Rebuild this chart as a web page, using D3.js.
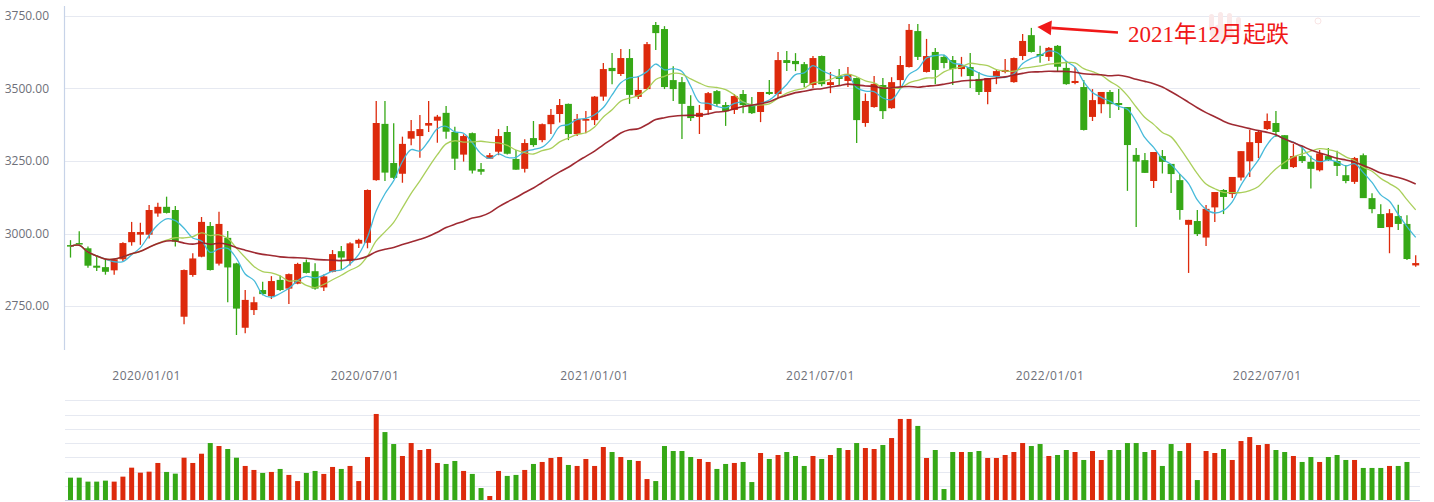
<!DOCTYPE html>
<html><head><meta charset="utf-8">
<script src="https://cdn.jsdelivr.net/npm/d3@7/dist/d3.min.js"></script>
<style>html,body{margin:0;padding:0;background:#fff;}svg{display:block}</style>
</head><body>
<svg id="chart" width="1434" height="502"></svg>
<script>
// ---- Weekly candles, one per trading week ----
const openP = [2960,2967,2949,2889,2884,2873,2911,2970,2996,2996,
3069,3092,3081,2713,2857,2920,3026,2896,2985,2897,
2675,2736,2805,2784,2840,2810,2827,2901,2870,2814,
2868,2939,2905,2965,2968,3184,3378,3243,3206,3327,
3336,3372,3389,3416,3350,3272,3346,3222,3258,3282,
3350,3257,3223,3329,3322,3377,3412,3447,3343,3389,
3391,3472,3571,3550,3605,3471,3498,3719,3705,3529,
3522,3440,3402,3426,3491,3443,3426,3481,3443,3419,
3488,3481,3598,3595,3584,3512,3612,3512,3543,3526,
3536,3381,3436,3512,3432,3529,3574,3698,3557,3626,
3609,3598,3567,3574,3533,3488,3543,3557,3522,3612,
3684,3619,3609,3647,3571,3519,3505,3402,3446,3488,
3450,3436,3271,3253,3181,3267,3240,3184,3030,3043,
2986,3090,3150,3136,3193,3249,3312,3360,3381,3339,
3229,3267,3247,3218,3267,3250,3201,3178,3270,3122,
3067,3022,3060,3033,2890];
const closeP = [2956,2963,2889,2882,2868,2911,2967,3005,3005,3081,
3092,3071,2972,2874,2914,3040,2874,3033,2883,2741,
2771,2763,2791,2836,2805,2860,2895,2864,2810,2852,
2929,2917,2966,2978,3150,3381,3210,3192,3309,3353,
3360,3381,3403,3351,3258,3336,3217,3213,3270,3336,
3275,3220,3312,3305,3377,3409,3443,3343,3395,3395,
3472,3567,3560,3605,3478,3495,3653,3691,3505,3498,
3447,3398,3416,3484,3447,3422,3474,3443,3415,3488,
3481,3598,3588,3584,3519,3605,3515,3522,3533,3550,
3391,3457,3516,3422,3522,3581,3702,3609,3612,3564,
3588,3567,3581,3543,3488,3536,3560,3564,3605,3664,
3626,3612,3640,3575,3515,3526,3357,3460,3488,3446,
3443,3305,3248,3209,3281,3247,3205,3081,3047,2998,
3085,3143,3126,3195,3284,3315,3350,3388,3350,3222,
3267,3250,3223,3276,3253,3233,3181,3260,3122,3084,
3019,3070,3033,2912,2898];
const highP = [2977,3008,2955,2926,2911,2913,2970,3040,3037,3098,
3106,3127,3095,2876,2932,3057,3040,3075,3009,2899,
2805,2782,2834,2853,2855,2862,2899,2910,2897,2859,
2943,2957,2970,2982,3152,3457,3457,3380,3334,3391,
3409,3457,3409,3440,3368,3342,3348,3243,3278,3360,
3371,3288,3325,3388,3379,3429,3464,3448,3412,3422,
3474,3588,3622,3636,3636,3543,3660,3729,3715,3577,
3540,3477,3443,3488,3495,3453,3481,3495,3471,3488,
3529,3626,3629,3622,3591,3612,3614,3557,3567,3574,
3538,3483,3543,3536,3539,3612,3722,3722,3671,3640,
3616,3612,3609,3622,3557,3536,3564,3602,3607,3688,
3709,3647,3643,3650,3595,3574,3529,3498,3488,3495,
3498,3436,3295,3278,3281,3288,3240,3205,3047,3081,
3098,3143,3153,3195,3284,3357,3357,3414,3422,3339,
3309,3301,3268,3288,3295,3285,3236,3264,3276,3139,
3101,3084,3099,3063,2925];
const lowP = [2917,2960,2882,2871,2858,2858,2905,2958,2961,2983,
3058,3069,2955,2687,2851,2918,2872,2890,2763,2650,
2656,2719,2787,2774,2802,2757,2825,2862,2806,2802,
2866,2877,2890,2950,2949,3182,3181,3188,3175,3304,
3261,3350,3313,3327,3219,3248,3207,3203,3257,3270,
3272,3220,3210,3299,3315,3343,3383,3322,3336,3346,
3374,3458,3515,3543,3447,3464,3497,3633,3498,3457,
3326,3388,3343,3410,3440,3371,3412,3415,3412,3384,
3478,3467,3560,3560,3505,3502,3508,3484,3512,3505,
3312,3368,3434,3395,3430,3508,3572,3598,3555,3515,
3570,3512,3541,3502,3478,3446,3515,3553,3520,3598,
3624,3589,3595,3557,3513,3515,3355,3388,3415,3398,
3426,3147,3022,3209,3157,3207,3140,3047,2864,2991,
2957,3040,3067,3122,3183,3195,3260,3357,3333,3222,
3226,3243,3155,3214,3250,3198,3173,3171,3122,3070,
3019,2932,3012,2909,2885];
// weekly volume (relative units; last week has no bar)
const volume = [785,785,645,645,680,645,820,1135,960,995,
1300,985,925,1485,1300,1625,2000,1895,1790,1485,
1195,1055,950,985,1090,880,665,950,1020,915,
1160,1090,1195,665,1510,3020,2385,1965,1545,2000,
1755,1790,1300,1265,1370,1020,915,420,140,1020,
845,880,1055,1265,1335,1475,1510,1230,1195,1440,
1195,1860,1685,1510,1405,1370,735,665,1895,1720,
1720,1510,1440,1335,1090,1265,1300,1335,630,1650,
1440,1580,1685,1545,1195,1545,1440,1580,1825,1755,
2000,1825,1790,1930,2175,2845,2845,2600,1475,1755,
385,1685,1685,1685,1720,1475,1475,1580,1685,2000,
1895,1965,1545,1580,1755,1685,1405,1720,1405,1755,
1755,2000,2000,1685,1755,1195,1965,1720,2000,700,
1720,1650,1790,1405,2070,2210,1930,1965,1755,1685,
1545,1335,1510,1335,1510,1580,1405,1405,1125,1125,
1125,1195,1195,1335,null];

// categories: week-ending Fridays, weeks fully closed for holidays skipped
const firstWeek = "2019-11-01";
const closedWeeks = ["2020-01-31","2022-02-04","2022-10-07"];
const yTicks = [2750,3000,3250,3500,3750];
const xTickLabels = ["2020/01/01","2020/07/01","2021/01/01","2021/07/01","2022/01/01","2022/07/01"];
const maPeriods = [5,10,30];
const maColors = ["#3cb6d8","#a5cc52","#9a1f27"];
const annotationText = "2021年12月起跌";
const annotationIndex = 110;

const UP = "#dd2a0c", DOWN = "#36a816";
const n = closeP.length;
const dates = [];
{ let t = Date.parse(firstWeek + "T00:00:00Z");
  while (dates.length < n) {
    const s = new Date(t).toISOString().slice(0,10);
    if (!closedWeeks.includes(s)) dates.push(t);
    t += 7*864e5;
  } }

const svg = d3.select("#chart");
const x = d3.scalePoint().domain(d3.range(n)).range([70.5, 1415.7]);
const step = x.step();
const y = d3.scaleLinear().domain([2600, 3750]).range([349.5, 16]);
const yv = d3.scaleLinear().domain([0, 3500]).range([500, 400.3]);
const gridColor = "#e6e9f1", axisColor = "#c7d3e8", labelColor = "#6e7079";
const FONT = "'Open Sans', 'Liberation Sans', sans-serif";

// ---- main grid ----
svg.append("g").selectAll("line").data(yTicks).join("line")
  .attr("x1", 64).attr("x2", 1420)
  .attr("y1", d => Math.round(y(d)) + 0.5).attr("y2", d => Math.round(y(d)) + 0.5)
  .attr("stroke", gridColor).attr("stroke-width", 1);

const yAxis = svg.append("g").attr("transform", "translate(64,0)")
  .call(d3.axisLeft(y).tickValues(yTicks).tickFormat(d3.format(".2f")).tickSize(0).tickPadding(15));
yAxis.select(".domain").remove();
yAxis.selectAll("text").attr("fill", labelColor).style("font-family", FONT).style("font-size", "12px");
svg.append("line").attr("x1", 64.5).attr("x2", 64.5).attr("y1", 6).attr("y2", 350)
  .attr("stroke", axisColor).attr("stroke-width", 1.2);

// ---- x tick labels positioned by date between weekly categories ----
function dateToX(str) {
  const t = Date.parse(str.replace(/\//g, "-") + "T00:00:00Z");
  let k = 0;
  while (k < n - 1 && dates[k + 1] <= t) k++;
  const frac = k < n - 1 ? (t - dates[k]) / (dates[k + 1] - dates[k]) : 0;
  return x(k) + frac * step;
}
svg.append("g").selectAll("text").data(xTickLabels).join("text")
  .attr("x", d => dateToX(d)).attr("y", 380)
  .attr("text-anchor", "middle").attr("fill", labelColor)
  .style("font-family", FONT).style("font-size", "12px").style("letter-spacing", "0.5px")
  .text(d => d);

// ---- faint watermark logo (graphic only) ----
const wm = svg.append("g").attr("fill", "#fae9e9");
wm.append("ellipse").attr("cx", 1222).attr("cy", 33).attr("rx", 12).attr("ry", 9);
wm.append("rect").attr("x", 1209).attr("y", 14).attr("width", 5).attr("height", 16).attr("rx", 2.5);
wm.append("rect").attr("x", 1218).attr("y", 12).attr("width", 5).attr("height", 16).attr("rx", 2.5);
wm.append("rect").attr("x", 1227).attr("y", 13).attr("width", 5).attr("height", 16).attr("rx", 2.5);
wm.append("rect").attr("x", 1236).attr("y", 17).attr("width", 5).attr("height", 14).attr("rx", 2.5);
wm.append("circle").attr("cx", 1318).attr("cy", 21).attr("r", 3).attr("fill", "none").attr("stroke", "#f6dede").attr("stroke-width", 0.8);

// ---- candles ----
const idx = d3.range(n);
const cg = svg.append("g");
cg.selectAll("line").data(idx).join("line")
  .attr("x1", i => x(i)).attr("x2", i => x(i))
  .attr("y1", i => y(highP[i])).attr("y2", i => y(lowP[i]))
  .attr("stroke", i => closeP[i] >= openP[i] ? UP : DOWN).attr("stroke-width", 1.3);
cg.selectAll("rect").data(idx).join("rect")
  .attr("x", i => x(i) - 3.5).attr("width", 7)
  .attr("y", i => y(Math.max(openP[i], closeP[i])))
  .attr("height", i => Math.max(1.5, Math.abs(y(openP[i]) - y(closeP[i]))))
  .attr("fill", i => closeP[i] >= openP[i] ? UP : DOWN);

// ---- moving averages of the closes ----
maPeriods.forEach((p, k) => {
  const vals = closeP.map((c, i) => d3.mean(closeP.slice(Math.max(0, i - p + 1), i + 1)));
  svg.append("path").datum(vals)
    .attr("d", d3.line().x((d, i) => x(i)).y(d => y(d)).curve(d3.curveCatmullRom.alpha(0.5)))
    .attr("fill", "none").attr("stroke", maColors[k]).attr("stroke-width", k === 2 ? 1.6 : 1.3)
    .attr("stroke-opacity", 0.95);
});

// ---- annotation ----
const tip = [x(annotationIndex) + 6, y(highP[annotationIndex]) - 1];
const tail = [tip[0] + 80.6, tip[1] + 5.6];
const len = Math.hypot(tail[0] - tip[0], tail[1] - tip[1]);
const u = [(tail[0] - tip[0]) / len, (tail[1] - tip[1]) / len];
const pp = [-u[1], u[0]];
const base = [tip[0] + 14 * u[0], tip[1] + 14 * u[1]];
svg.append("line").attr("x1", base[0]).attr("y1", base[1]).attr("x2", tail[0]).attr("y2", tail[1])
  .attr("stroke", "#f01818").attr("stroke-width", 2.6);
svg.append("path").attr("d", d3.line()([tip, [base[0] + 7.5 * pp[0], base[1] + 7.5 * pp[1]], [base[0] - 7.5 * pp[0], base[1] - 7.5 * pp[1]]]) + "Z")
  .attr("fill", "#f01818");
svg.append("text").attr("x", tail[0] + 10).attr("y", 42).attr("fill", "#f01818")
  .style("font-family", "'Liberation Serif', 'Noto Sans CJK SC', serif").style("font-size", "23px")
  .text(annotationText);

// ---- volume panel ----
svg.append("g").selectAll("line").data(d3.range(500, 3501, 500)).join("line")
  .attr("x1", 65).attr("x2", 1420)
  .attr("y1", d => Math.round(yv(d)) + 0.5).attr("y2", d => Math.round(yv(d)) + 0.5)
  .attr("stroke", gridColor).attr("stroke-width", 1);
svg.append("g").selectAll("rect").data(idx.filter(i => volume[i] != null)).join("rect")
  .attr("x", i => x(i) - 2.5).attr("width", 5)
  .attr("y", i => yv(volume[i])).attr("height", i => yv(0) - yv(volume[i]))
  .attr("fill", i => closeP[i] >= openP[i] ? UP : DOWN);
svg.append("line").attr("x1", 65).attr("x2", 1420).attr("y1", 500.5).attr("y2", 500.5)
  .attr("stroke", axisColor).attr("stroke-width", 1.2);
</script>
</body></html>
